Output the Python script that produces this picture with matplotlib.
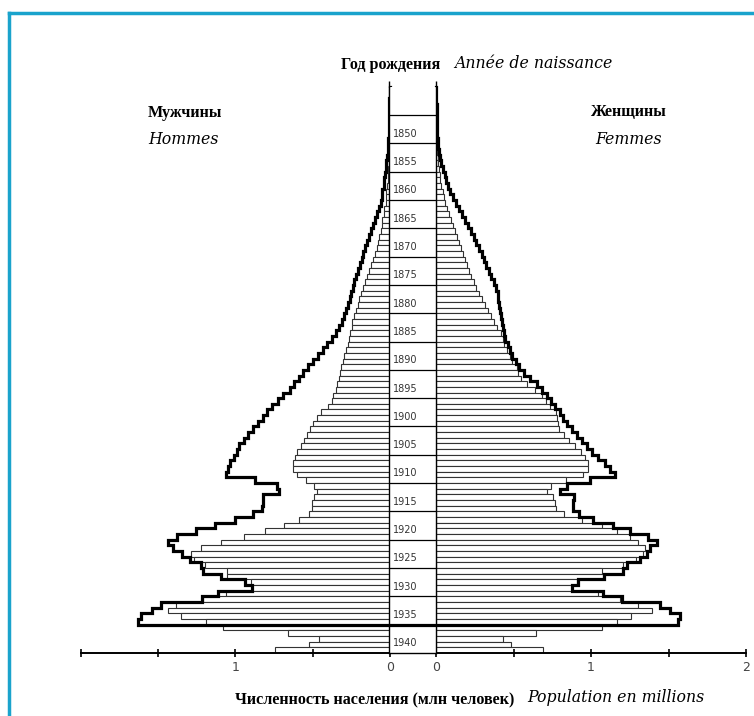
import numpy as np
import matplotlib.pyplot as plt
from matplotlib.lines import Line2D

# birth years, one bar per year (population in thousands)
years = list(range(1843, 1943))

men_bars = [0, 0, 0, 0, 0, 0, 0, 0, 0, 0,
            3, 5, 6, 8, 11, 13, 16, 19, 23, 26,
            29, 36, 42, 49, 55, 61, 71, 78, 87, 97,
            107, 123, 136, 149, 162, 175, 188, 201, 210, 223,
            233, 243, 249, 259, 265, 272, 282, 296, 305, 317,
            326, 331, 340, 351, 367, 373, 403, 447, 474, 496,
            518, 534, 558, 576, 601, 617, 631, 630, 604, 544,
            490, 474, 495, 502, 502, 524, 587, 684, 806, 943,
            1094, 1223, 1288, 1269, 1197, 1052, 1052, 900, 890, 1061,
            1212, 1383, 1439, 1354, 1191, 1079, 662, 458, 524, 744]

women_bars = [0, 0, 0, 0, 0, 0, 0, 0, 0, 0,
              3, 6, 10, 16, 19, 23, 29, 35, 42, 52,
              61, 71, 84, 97, 110, 123, 135, 148, 161, 174,
              187, 200, 213, 226, 242, 258, 277, 297, 316, 335,
              355, 374, 394, 419, 430, 439, 460, 477, 492, 525,
              531, 548, 585, 639, 686, 708, 736, 774, 783, 785,
              794, 826, 860, 897, 936, 961, 979, 983, 946, 839,
              742, 718, 753, 768, 774, 828, 940, 1069, 1170, 1252,
              1305, 1348, 1337, 1290, 1205, 1069, 1079, 908, 876, 1047,
              1187, 1305, 1392, 1256, 1170, 1069, 645, 434, 484, 692]

# thick outline: earlier population of the same birth cohorts
outline_years = list(range(1843, 1938))

men_outline = [3, 3, 4, 5, 5, 6, 6, 8, 9, 10,
               13, 16, 19, 23, 26, 31, 36, 42, 49, 55,
               61, 71, 84, 97, 110, 123, 136, 149, 162, 172,
               184, 197, 207, 220, 230, 239, 252, 262, 272, 285,
               298, 311, 330, 349, 375, 408, 434, 466, 498, 531,
               563, 589, 621, 647, 693, 725, 764, 796, 822, 854,
               887, 919, 945, 977, 990, 1010, 1036, 1049, 1063, 874,
               733, 718, 820, 820, 830, 885, 1003, 1133, 1256, 1377,
               1435, 1406, 1348, 1294, 1225, 1208, 1094, 938, 891, 1111,
               1219, 1482, 1542, 1614, 1629]

women_outline = [2, 3, 3, 4, 5, 5, 6, 8, 9, 11,
                 13, 19, 29, 35, 45, 55, 65, 77, 90, 110,
                 129, 148, 168, 187, 206, 226, 245, 258, 277, 294,
                 310, 323, 339, 355, 371, 387, 397, 403, 406, 413,
                 419, 426, 432, 436, 445, 463, 477, 492, 516, 537,
                 568, 606, 650, 686, 714, 740, 768, 800, 821, 847,
                 876, 908, 940, 972, 1005, 1047, 1090, 1123, 1155, 994,
                 843, 800, 890, 887, 882, 925, 1015, 1140, 1252, 1366,
                 1424, 1381, 1359, 1316, 1230, 1208, 1084, 918, 876, 1079,
                 1198, 1445, 1510, 1574, 1563]

label_years = list(range(1850, 1945, 5))


def outline_xy(yrs, vals):
    xs, ys = [], []
    for yr, v in zip(yrs, vals):
        xs += [v / 1000, v / 1000]
        ys += [yr - 0.5, yr + 0.5]
    xs.append(0)
    ys.append(yrs[-1] + 0.5)
    return xs, ys


W, H = 754, 716
fig = plt.figure(figsize=(W / 100, H / 100), dpi=100)

ytop, ybot = 86.7, 653
bottom = 1 - ybot / H
height = (ybot - ytop) / H
ylim = (1942.5, 1842.5)

axL = fig.add_axes([81 / W, bottom, 309 / W, height])
axR = fig.add_axes([436 / W, bottom, 310 / W, height])
axC = fig.add_axes([389 / W, bottom, 47 / W, height])

bar_kw = dict(height=1.0, color='white', edgecolor='#333333', linewidth=0.8)
axL.barh(years, np.array(men_bars) / 1000, **bar_kw)
axR.barh(years, np.array(women_bars) / 1000, **bar_kw)

xs, ys = outline_xy(outline_years, men_outline)
axL.plot(xs, ys, color='black', lw=2.3, solid_joinstyle='miter', clip_on=False)
xs, ys = outline_xy(outline_years, women_outline)
axR.plot(xs, ys, color='black', lw=2.3, solid_joinstyle='miter', clip_on=False)

axL.set_xlim(2, 0)
axR.set_xlim(0, 2)
for ax in (axL, axR):
    ax.set_ylim(*ylim)
    for s in ('top', 'left', 'right'):
        ax.spines[s].set_visible(False)
    ax.spines['bottom'].set_linewidth(1.4)
    ax.set_yticks([])
    ax.set_xticks([0, 0.5, 1, 1.5, 2])
    ax.tick_params(axis='x', direction='inout', length=6, width=1.2,
                   labelsize=9, labelcolor='#444444', pad=3)
axL.set_xticklabels(['0', '', '1', '', ''])
axR.set_xticklabels(['0', '', '1', '', '2'])

# central column with birth-year labels
axC.set_xlim(0, 1)
axC.set_ylim(*ylim)
axC.set_xticks([])
axC.set_yticks([])
axC.spines['top'].set_visible(False)
for s in ('left', 'right', 'bottom'):
    axC.spines[s].set_linewidth(1.0)
for yr in label_years:
    axC.axhline(yr - 2.5, color='black', lw=0.9)
    axC.text(0.08, yr + 0.8, str(yr), fontsize=7, color='#333333',
             ha='left', va='center')
axC.hlines(1937.5, 0, 1, color='black', lw=2.3)
axC.vlines([0, 1], 1841.5, 1842.5, color='black', lw=1.0, clip_on=False)

# titles
bold_ru = dict(family='Liberation Serif', weight='bold', fontsize=11.6)
ital_fr = dict(family='DejaVu Serif', style='italic', fontsize=11.3)


def ftext(x, y, s, **kw):
    fig.text(x / W, 1 - y / H, s, va='center', **kw)


ftext(440, 65, 'Год рождения', ha='right', **bold_ru)
ftext(454, 63, 'Année de naissance', ha='left', **ital_fr)
ftext(148, 113, 'Мужчины', ha='left', **bold_ru)
ftext(148, 140, 'Hommes', ha='left', **ital_fr)
ftext(590, 112, 'Женщины', ha='left', **bold_ru)
ftext(595, 140, 'Femmes', ha='left', **ital_fr)
ftext(235, 700, 'Численность населения (млн человек)', ha='left', **bold_ru)
ftext(527, 698, 'Population en millions', ha='left', **ital_fr)

# blue frame (top and left edges)
frame = '#1AA3CC'
fig.add_artist(Line2D([9 / W, 1], [1 - 13 / H, 1 - 13 / H], color=frame, lw=2.5))
fig.add_artist(Line2D([9 / W, 9 / W], [0, 1 - 13 / H], color=frame, lw=2.5))

fig.savefig('out.png', dpi=100)
